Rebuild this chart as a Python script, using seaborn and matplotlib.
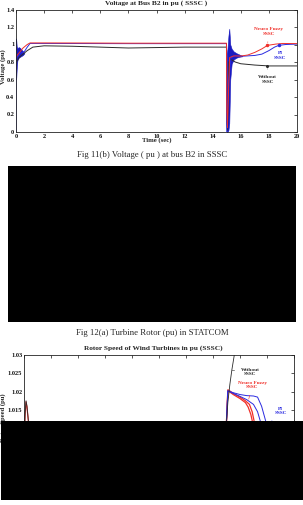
import numpy as np
import pandas as pd
import matplotlib
matplotlib.use('Agg')
import matplotlib.pyplot as plt
import seaborn as sns
from matplotlib.patches import Rectangle

# ---------------- data: Fig 11(b) voltage at bus B2 ----------------
t_nf = [0.0, 0.1, 0.3, 0.5, 0.8, 1.0, 2.0, 5.0, 8.0, 10.0, 14.98, 15.0, 15.05, 15.2, 15.5, 16.0,
        16.5, 17.0, 17.5, 17.9, 18.5, 19.0, 20.0]
v_nf = [0.85, 0.88, 0.92, 0.96, 1.0, 1.018, 1.018, 1.017, 1.015, 1.015, 1.015, 0.3, 0.05, 0.85, 0.87,
        0.868, 0.88, 0.91, 0.95, 0.99, 1.005, 1.012, 1.01]
t_pi = [0.0, 0.0, 0.05, 0.3, 0.6, 0.8, 1.0, 2.0, 5.0, 8.0, 10.0, 14.98, 15.0, 15.1, 15.3, 15.6,
        16.0, 17.0, 17.5, 18.0, 18.4, 18.7, 19.2, 20.0]
v_pi = [0.0, 0.6, 0.85, 0.9, 0.92, 0.97, 1.012, 1.012, 1.011, 1.01, 1.01, 1.01, 0.0, 0.5, 0.85, 0.87,
        0.865, 0.875, 0.89, 0.93, 0.97, 0.99, 1.0, 1.005]
t_wo = [0.0, 0.05, 0.2, 0.5, 0.8, 1.2, 2.0, 4.0, 6.0, 8.0, 10.0, 12.0, 14.98, 15.0, 15.05, 15.15,
        15.3, 15.6, 16.0, 17.0, 18.0, 20.0]
v_wo = [0.65, 0.8, 0.85, 0.89, 0.93, 0.97, 0.985, 0.98, 0.97, 0.96, 0.965, 0.97, 0.97, 0.1, 0.02,
        0.8, 0.83, 0.8, 0.78, 0.765, 0.755, 0.755]
# oscillation envelopes of the PI curve
t_osc_a = [0.0, 0.02, 0.05, 0.1, 0.2, 0.3, 0.4, 0.5, 0.6]
hi_osc_a = [1.07, 1.05, 0.98, 0.96, 0.97, 0.96, 0.94, 0.92, 0.9]
lo_osc_a = [0.6, 0.62, 0.72, 0.82, 0.85, 0.86, 0.87, 0.88, 0.9]
t_osc_b = [15.0, 15.05, 15.12, 15.18, 15.25, 15.35, 15.5, 15.7, 15.9, 16.1]
hi_osc_b = [0.9, 0.95, 1.1, 1.18, 1.0, 0.95, 0.92, 0.9, 0.885, 0.87]
lo_osc_b = [0.0, 0.0, 0.02, 0.1, 0.6, 0.78, 0.83, 0.85, 0.86, 0.865]
v_ticks1 = [0, 0.2, 0.4, 0.6, 0.8, 1.0, 1.2, 1.4]
v_ticklabels1 = ['0', '0.2', '0.4', '0.6', '0.8', '1', '1.2', '1.4']
t_ticks = [0, 2, 4, 6, 8, 10, 12, 14, 16, 18, 20]

# ---------------- data: rotor speed (SSSC) ----------------
t_sp_wo = [0.0, 0.08, 0.15, 0.22, 0.3, 0.4, 14.95, 15.0, 15.1, 15.25, 15.4, 15.6]
w_sp_wo = [1.005, 1.014, 1.0175, 1.016, 1.013, 1.009, 1.0, 1.0117, 1.017, 1.022, 1.026, 1.0305]
t_sp_nf1 = [0.0, 0.08, 0.15, 0.22, 0.3, 0.4]
w_sp_nf1 = [1.005, 1.0135, 1.0172, 1.0158, 1.0128, 1.0088]
t_sp_nf2 = [14.98, 15.0, 15.1, 15.2, 15.5, 16.0, 16.4, 16.7, 16.9, 17.1, 17.3]
w_sp_nf2 = [1.0, 1.012, 1.0205, 1.0203, 1.0195, 1.0185, 1.0175, 1.0165, 1.0145, 1.011, 1.007]
t_sp_nf3 = [14.98, 15.0, 15.1, 15.2, 15.5, 16.0, 16.4, 16.6, 16.8, 17.0, 17.2]
w_sp_nf3 = [1.0, 1.012, 1.0202, 1.02, 1.0192, 1.0181, 1.017, 1.0158, 1.0138, 1.0105, 1.007]
t_sp_pi1 = [14.98, 15.0, 15.1, 15.5, 16.0, 16.5, 17.0, 17.3, 17.5, 17.7]
w_sp_pi1 = [1.0, 1.012, 1.0202, 1.0195, 1.0187, 1.0178, 1.0165, 1.0145, 1.012, 1.009]
t_sp_pi2 = [14.98, 15.0, 15.1, 15.5, 16.0, 16.5, 17.0, 17.3, 17.6, 17.9, 18.1]
w_sp_pi2 = [1.0, 1.012, 1.0202, 1.0197, 1.0192, 1.0189, 1.0188, 1.0185, 1.016, 1.012, 1.008]
w_ticks2 = [1.0, 1.005, 1.01, 1.015, 1.02, 1.025, 1.03]
w_ticklabels2 = ['1', '1.005', '1.01', '1.015', '1.02', '1.025', '1.03']

RED = '#f0302a'
BLUE = '#2a2ae0'
BLK = '#2b2b2b'

sns.set_theme(style='white')
plt.rcParams['font.family'] = ['Liberation Serif', 'DejaVu Serif']

W, H = 303, 505
fig = plt.figure(figsize=(W / 100, H / 100), dpi=100)
fig.patch.set_facecolor('white')


def rect(l, t, r, b):
    return [l / W, 1 - b / H, (r - l) / W, (b - t) / H]


def style(ax):
    for s in ax.spines.values():
        s.set_color('#222222')
        s.set_linewidth(0.6)
    ax.tick_params(direction='in', length=2, width=0.5, top=True, right=True,
                   labelsize=4.6, pad=1.2, colors='#111111')
    for lab in ax.get_xticklabels() + ax.get_yticklabels():
        lab.set_fontweight('bold')


def line(ax, t, v, c, lw=0.7):
    sns.lineplot(x=t, y=v, ax=ax, color=c, lw=lw, sort=False, estimator=None)


# ---------------- chart 1 ----------------
ax1 = fig.add_axes(rect(16, 9.5, 297, 132))
line(ax1, t_wo, v_wo, BLK)
line(ax1, t_pi, v_pi, BLUE)
line(ax1, t_nf, v_nf, RED)
ax1.fill_between(t_osc_a, lo_osc_a, hi_osc_a, color='#1a1ac0', lw=0.4)
ax1.fill_between(t_osc_b, lo_osc_b, hi_osc_b, color='#1a1ac0', lw=0.4)
ax1.set_xlim(0, 20)
ax1.set_ylim(0, 1.4)
ax1.set_xticks(t_ticks)
ax1.set_yticks(v_ticks1)
ax1.set_yticklabels(v_ticklabels1)
ax1.set_xlabel('')
ax1.set_ylabel('')
style(ax1)
arw = dict(arrowstyle='-', lw=0.4)
ax1.annotate('Neuro Fuzzy\nSSSC', xy=(17.9, 0.99), xytext=(18.0, 1.15), color=RED, fontsize=3.8,
             fontweight='bold', ha='center', va='center', arrowprops=dict(arw, color=RED))
ax1.plot([17.9], [0.99], 'o', color=RED, ms=1.5)
ax1.annotate('PI\nSSSC', xy=(18.7, 0.995), xytext=(18.8, 0.875), color=BLUE, fontsize=3.8,
             fontweight='bold', ha='center', va='center', arrowprops=dict(arw, color=BLUE))
ax1.plot([18.7], [0.995], 'o', color=BLUE, ms=1.5)
ax1.annotate('Without\nSSSC', xy=(17.9, 0.755), xytext=(17.9, 0.6), color=BLK, fontsize=3.8,
             fontweight='bold', ha='center', va='center', arrowprops=dict(arw, color=BLK))
ax1.plot([17.9], [0.755], 'o', color=BLK, ms=1.2)

fig.text(156 / W, 1 - 3.5 / H, 'Voltage at Bus B2 in pu ( SSSC )', ha='center', va='center',
         fontsize=5.3, fontweight='bold')
fig.text(157 / W, 1 - 140.5 / H, 'Time (sec)', ha='center', va='center', fontsize=4.8,
         fontweight='bold')
fig.text(3.5 / W, 1 - 67 / H, 'Voltage (pu)', ha='center', va='center', rotation=90, fontsize=4.8,
         fontweight='bold')
fig.text(152 / W, 1 - 155 / H, 'Fig 11(b) Voltage ( pu ) at bus B2 in SSSC', ha='center',
         va='center', fontsize=6.3)

# ---------------- chart 2 ----------------
ax2 = fig.add_axes(rect(24, 355, 294, 480))
line(ax2, t_sp_nf1, w_sp_nf1, RED, lw=0.9)
line(ax2, t_sp_nf2, w_sp_nf2, RED, lw=0.9)
line(ax2, t_sp_nf3, w_sp_nf3, RED, lw=0.9)
line(ax2, t_sp_pi1, w_sp_pi1, BLUE, lw=0.7)
line(ax2, t_sp_pi2, w_sp_pi2, BLUE, lw=0.7)
line(ax2, t_sp_wo[:6], w_sp_wo[:6], BLK, lw=0.6)
line(ax2, t_sp_wo[6:], w_sp_wo[6:], BLK, lw=0.6)
ax2.set_xlim(0, 20)
ax2.set_ylim(0.99585, 1.03)
ax2.set_xticks(t_ticks)
ax2.set_yticks(w_ticks2)
ax2.set_yticklabels(w_ticklabels2)
ax2.set_xlabel('')
ax2.set_ylabel('')
style(ax2)
ax2.annotate('Without\nSSSC', xy=(15.42, 1.0258), xytext=(16.75, 1.0254), color=BLK, fontsize=3.8,
             fontweight='bold', ha='center', va='center', arrowprops=dict(arw, color=BLK))
ax2.annotate('Neuro Fuzzy\nSSSC', xy=(16.6, 1.0172), xytext=(16.9, 1.0218), color=RED, fontsize=3.8,
             fontweight='bold', ha='center', va='center', arrowprops=dict(arw, color=RED))
ax2.annotate('PI\nSSSC', xy=(18.0, 1.0105), xytext=(19.0, 1.0147), color=BLUE, fontsize=3.8,
             fontweight='bold', ha='center', va='center', arrowprops=dict(arw, color=BLUE))

fig.text(152 / W, 1 - 333 / H, 'Fig 12(a) Turbine Rotor (pu) in STATCOM', ha='center',
         va='center', fontsize=6.3)
fig.text(153 / W, 1 - 348 / H, 'Rotor Speed of Wind Turbines in pu (SSSC)', ha='center',
         va='center', fontsize=5.3, fontweight='bold')
fig.text(3.5 / W, 1 - 393 / H, 'Rotor Speed (pu)', ha='center', va='top', rotation=90,
         fontsize=4.8, fontweight='bold')

# ---------------- black masked areas of the page ----------------
fig.add_artist(Rectangle((8 / W, 1 - 322 / H), 288 / W, 156 / H, transform=fig.transFigure,
                         facecolor='black', edgecolor='none', zorder=20))
fig.add_artist(Rectangle((1 / W, 1 - 500 / H), 302 / W, 79 / H, transform=fig.transFigure,
                         facecolor='black', edgecolor='none', zorder=20))

fig.savefig('out.png', dpi=100, facecolor='white')
